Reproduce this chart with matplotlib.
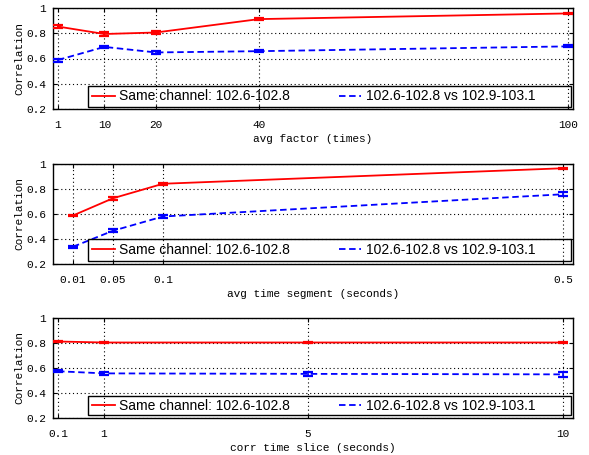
import matplotlib
matplotlib.use("Agg")
import matplotlib.pyplot as plt
from matplotlib.patches import Rectangle
from matplotlib.lines import Line2D
from matplotlib.ticker import FixedLocator, FixedFormatter

# ---- data ----
p1_x = [1, 10, 20, 40, 100]
p1_red = [0.853, 0.794, 0.806, 0.912, 0.957]
p1_red_err = [0.012, 0.014, 0.012, 0.006, 0.005]
p1_blue = [0.588, 0.692, 0.648, 0.658, 0.696]
p1_blue_err = [0.012, 0.010, 0.010, 0.010, 0.008]
p1_ticklabels = ["1", "10", "20", "40", "100"]

p2_x = [0.01, 0.05, 0.1, 0.5]
p2_red = [0.588, 0.726, 0.842, 0.966]
p2_red_err = [0.006, 0.010, 0.006, 0.004]
p2_blue = [0.338, 0.466, 0.580, 0.758]
p2_blue_err = [0.006, 0.010, 0.010, 0.016]
p2_ticklabels = ["0.01", "0.05", "0.1", "0.5"]

p3_x = [0.1, 1, 5, 10]
p3_red = [0.812, 0.804, 0.804, 0.804]
p3_red_err = [0.006, 0.006, 0.006, 0.006]
p3_blue = [0.574, 0.557, 0.553, 0.549]
p3_blue_err = [0.008, 0.010, 0.016, 0.022]
p3_ticklabels = ["0.1", "1", "5", "10"]

y_ticks = [0.2, 0.4, 0.6, 0.8, 1.0]
y_ticklabels = ["0.2", "0.4", "0.6", "0.8", "1"]

label_red = "Same channel: 102.6-102.8"
label_blue = "102.6-102.8 vs 102.9-103.1"
ylabel = "Correlation"
xlabels = ["avg factor (times)", "avg time segment (seconds)", "corr time slice (seconds)"]

panels = [
    (p1_x, p1_red, p1_red_err, p1_blue, p1_blue_err, p1_ticklabels, (0.03, 101.0)),
    (p2_x, p2_red, p2_red_err, p2_blue, p2_blue_err, p2_ticklabels, (-0.010, 0.510)),
    (p3_x, p3_red, p3_red_err, p3_blue, p3_blue_err, p3_ticklabels, (0.002, 10.2)),
]

W, H = 589, 455
fig = plt.figure(figsize=(W / 100, H / 100), dpi=100)

boxes = [(53, 8, 573, 109), (53, 164, 573, 264), (53, 318, 573, 418)]
mono = "Liberation Mono"
sans = "Liberation Sans"
dash = (0, (3.6, 2.0))
RED, BLUE = "#ff0000", "#0000ff"

for i, (px, r, re, b, be, tl, xl) in enumerate(panels):
    l, t, rr, bt = boxes[i]
    ax = fig.add_axes([l / W, 1 - bt / H, (rr - l) / W, (bt - t) / H])
    ax.set_xlim(*xl)
    ax.set_ylim(0.2, 1.0)
    ax.xaxis.set_major_locator(FixedLocator(px))
    ax.xaxis.set_major_formatter(FixedFormatter(tl))
    ax.yaxis.set_major_locator(FixedLocator(y_ticks))
    ax.yaxis.set_major_formatter(FixedFormatter(y_ticklabels))
    ax.grid(True, color="black", linestyle=(0, (1, 2.5)), linewidth=0.8)
    ax.tick_params(direction="in", length=3, width=0.8, top=True, right=True,
                   labelsize=8, pad=5)
    ax.tick_params(axis="x", pad=8)
    for lab in ax.get_xticklabels() + ax.get_yticklabels():
        lab.set_fontfamily(mono)
    for s in ax.spines.values():
        s.set_linewidth(1.0)
        s.set_color("black")
    ax.errorbar(px, r, yerr=re, color=RED, lw=1.3, elinewidth=1.2,
                capsize=3.5, capthick=1.6, zorder=3)
    eb = ax.errorbar(px, b, yerr=be, color=BLUE, lw=1.3, elinewidth=1.2,
                     capsize=3.5, capthick=1.6, zorder=3)
    eb.lines[0].set_linestyle(dash)
    ax.set_xlabel(xlabels[i], fontfamily=mono, fontsize=8, labelpad=3)
    ax.set_ylabel(ylabel, fontfamily=mono, fontsize=8, labelpad=1)

    hgt = bt - t
    wid = rr - l
    leg_top, leg_bot = [(86, 107), (239, 261), (396, 415)][i]
    fx0 = (88 - l) / wid
    fx1 = (571 - l) / wid
    fy0 = (bt - leg_bot) / hgt
    fy1 = (bt - leg_top) / hgt
    ax.add_patch(Rectangle((fx0, fy0), fx1 - fx0, fy1 - fy0, transform=ax.transAxes,
                           fill=False, edgecolor="black", lw=1.0, zorder=4,
                           clip_on=False))
    handles = [Line2D([], [], color=RED, lw=1.3),
               Line2D([], [], color=BLUE, lw=1.3, linestyle=dash)]
    leg = ax.legend(handles, [label_red, label_blue], loc="center left",
                    bbox_to_anchor=((92 - l) / wid, (fy0 + fy1) / 2),
                    ncol=2, frameon=False, prop={"family": sans, "size": 10},
                    handlelength=1.65, handletextpad=0.3, columnspacing=3.5,
                    borderpad=0, borderaxespad=0)
    leg.set_zorder(5)

fig.savefig("out.png", dpi=100)
